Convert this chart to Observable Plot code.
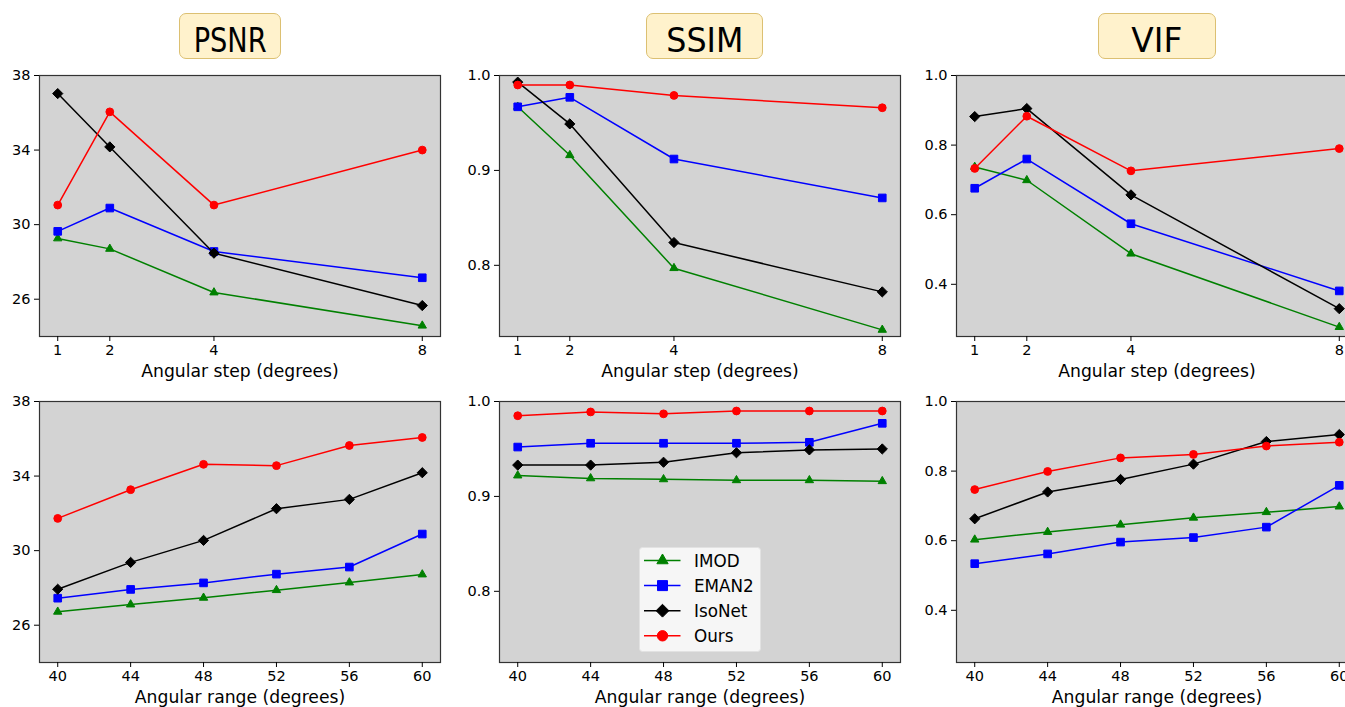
<!DOCTYPE html>
<html>
<head>
<meta charset="utf-8">
<script src="https://cdn.jsdelivr.net/npm/d3@7"></script>
<script src="https://cdn.jsdelivr.net/npm/@observablehq/plot@0.6"></script>
<style>
  html, body { margin: 0; padding: 0; overflow: hidden; background: #fff; }
  #root { position: relative; width: 1345px; height: 707px; overflow: hidden; background: #fff; font-family: "DejaVu Sans", sans-serif; }
  .panel { position: absolute; }
  .panel svg { display: block; background: transparent; max-width: none; }
  .tbox { position: absolute; box-sizing: border-box; background: #fff2cc; border: 1px solid #dcc072; border-radius: 7px; }
  .tbox svg { position: absolute; left: 0; top: 0; overflow: visible; }
  #legend { position: absolute; }
</style>
</head>
<body>
<div id="root"></div>
<script>
// ---------------- data ----------------
const methods = ["IMOD", "EMAN2", "IsoNet", "Ours"];
const metricTitles = ["PSNR", "SSIM", "VIF"];
const steps = [1, 2, 4, 8];
const ranges = [40, 44, 48, 52, 56, 60];
const stepLabel = "Angular step (degrees)";
const rangeLabel = "Angular range (degrees)";

const psnrStep_IMOD   = [29.26, 28.70, 26.36, 24.58];
const psnrStep_EMAN2  = [29.64, 30.89, 28.56, 27.15];
const psnrStep_IsoNet = [37.03, 34.17, 28.47, 25.66];
const psnrStep_Ours   = [31.05, 36.05, 31.05, 34.00];

const ssimStep_IMOD   = [0.967, 0.916, 0.797, 0.732];
const ssimStep_EMAN2  = [0.967, 0.977, 0.912, 0.871];
const ssimStep_IsoNet = [0.993, 0.949, 0.824, 0.772];
const ssimStep_Ours   = [0.990, 0.990, 0.979, 0.966];

const vifStep_IMOD    = [0.737, 0.699, 0.488, 0.277];
const vifStep_EMAN2   = [0.676, 0.760, 0.574, 0.381];
const vifStep_IsoNet  = [0.882, 0.905, 0.657, 0.330];
const vifStep_Ours    = [0.733, 0.883, 0.726, 0.790];

const psnrRange_IMOD   = [26.72, 27.11, 27.47, 27.88, 28.29, 28.72];
const psnrRange_EMAN2  = [27.45, 27.92, 28.27, 28.74, 29.12, 30.89];
const psnrRange_IsoNet = [27.93, 29.37, 30.55, 32.25, 32.75, 34.18];
const psnrRange_Ours   = [31.73, 33.27, 34.63, 34.56, 35.64, 36.07];

const ssimRange_IMOD   = [0.922, 0.919, 0.918, 0.917, 0.917, 0.916];
const ssimRange_EMAN2  = [0.952, 0.956, 0.956, 0.956, 0.957, 0.977];
const ssimRange_IsoNet = [0.933, 0.933, 0.936, 0.946, 0.949, 0.950];
const ssimRange_Ours   = [0.985, 0.989, 0.987, 0.990, 0.990, 0.990];

const vifRange_IMOD    = [0.603, 0.625, 0.646, 0.666, 0.682, 0.698];
const vifRange_EMAN2   = [0.534, 0.562, 0.596, 0.609, 0.639, 0.759];
const vifRange_IsoNet  = [0.663, 0.740, 0.776, 0.820, 0.885, 0.905];
const vifRange_Ours    = [0.747, 0.799, 0.838, 0.848, 0.872, 0.883];

const psnrTicks = [26, 30, 34, 38];
const unitTicks = [0.8, 0.9, 1.0];
const vifTicks = [0.4, 0.6, 0.8, 1.0];

// ---------------- styles ----------------
const colorOf = {IMOD: "green", EMAN2: "blue", IsoNet: "black", Ours: "red"};
const symbolOf = {IMOD: "triangle", EMAN2: "square", IsoNet: "diamond2", Ours: "circle"};
const rOf = {IMOD: 3.1, EMAN2: 4.3, IsoNet: 4.6, Ours: 3.9};

const root = document.getElementById("root");

function table(xs, seriesArrays) {
  const rows = [];
  methods.forEach((m, i) => xs.forEach((x, j) => rows.push({method: m, x, y: seriesArrays[i][j]})));
  return rows;
}

const frameW = 401, frameH = 261;
const mL = 40, mR = 10, mT = 12, mB = 62;

function panel({fx, fy, xDomain, xTicks, yDomain, yTicks, yFmt, xLabel, rows}) {
  const marks = [Plot.frame({fill: "#d3d3d3"})];
  for (const m of methods) {
    const d = rows.filter(r => r.method === m);
    marks.push(Plot.line(d, {x: "x", y: "y", stroke: colorOf[m], strokeWidth: 1.5}));
    marks.push(Plot.dot(d, {x: "x", y: "y", symbol: () => symbolOf[m], fill: colorOf[m], stroke: colorOf[m], strokeWidth: 1, r: rOf[m]}));
  }
  marks.push(Plot.frame({stroke: "#333", strokeWidth: 1.2}));
  marks.push(Plot.axisX({ticks: xTicks, tickFormat: d3.format("d"), tickSize: 5, tickPadding: 3, label: null, fontSize: 14.5}));
  marks.push(Plot.axisY({ticks: yTicks, tickFormat: yFmt, tickSize: 5, tickPadding: 4, label: null, fontSize: 14.5}));
  marks.push(Plot.text([xLabel], {frameAnchor: "bottom", dy: 35, fontSize: 17.2, lineAnchor: "middle", fill: "black"}));
  const chart = Plot.plot({
    width: mL + frameW + mR,
    height: mT + frameH + mB,
    marginLeft: mL, marginRight: mR, marginTop: mT, marginBottom: mB,
    style: {background: "transparent", fontFamily: "DejaVu Sans", fontSize: "14.5px", color: "black", overflow: "visible"},
    x: {domain: xDomain},
    y: {domain: yDomain},
    symbol: {type: "identity"},
    marks
  });
  const div = document.createElement("div");
  div.className = "panel";
  div.style.left = (fx - mL) + "px";
  div.style.top = (fy - mT) + "px";
  div.style.width = (mL + frameW + mR) + "px";
  div.style.height = (mT + frameH + mB) + "px";
  div.appendChild(chart);
  root.appendChild(div);
}

const colX = [39.3, 499.3, 955.7];
const rowY = [74.7, 400.7];
const stepDomain = [0.65, 8.35];
const rangeDomain = [39, 61];
const fmtInt = d3.format("d");
const fmt1 = d3.format(".1f");

panel({fx: colX[0], fy: rowY[0], xDomain: stepDomain, xTicks: steps, yDomain: [24, 38], yTicks: psnrTicks, yFmt: fmtInt, xLabel: stepLabel,
  rows: table(steps, [psnrStep_IMOD, psnrStep_EMAN2, psnrStep_IsoNet, psnrStep_Ours])});
panel({fx: colX[1], fy: rowY[0], xDomain: stepDomain, xTicks: steps, yDomain: [0.725, 1.0], yTicks: unitTicks, yFmt: fmt1, xLabel: stepLabel,
  rows: table(steps, [ssimStep_IMOD, ssimStep_EMAN2, ssimStep_IsoNet, ssimStep_Ours])});
panel({fx: colX[2], fy: rowY[0], xDomain: stepDomain, xTicks: steps, yDomain: [0.25, 1.0], yTicks: vifTicks, yFmt: fmt1, xLabel: stepLabel,
  rows: table(steps, [vifStep_IMOD, vifStep_EMAN2, vifStep_IsoNet, vifStep_Ours])});
panel({fx: colX[0], fy: rowY[1], xDomain: rangeDomain, xTicks: ranges, yDomain: [24, 38], yTicks: psnrTicks, yFmt: fmtInt, xLabel: rangeLabel,
  rows: table(ranges, [psnrRange_IMOD, psnrRange_EMAN2, psnrRange_IsoNet, psnrRange_Ours])});
panel({fx: colX[1], fy: rowY[1], xDomain: rangeDomain, xTicks: ranges, yDomain: [0.725, 1.0], yTicks: unitTicks, yFmt: fmt1, xLabel: rangeLabel,
  rows: table(ranges, [ssimRange_IMOD, ssimRange_EMAN2, ssimRange_IsoNet, ssimRange_Ours])});
panel({fx: colX[2], fy: rowY[1], xDomain: rangeDomain, xTicks: ranges, yDomain: [0.25, 1.0], yTicks: vifTicks, yFmt: fmt1, xLabel: rangeLabel,
  rows: table(ranges, [vifRange_IMOD, vifRange_EMAN2, vifRange_IsoNet, vifRange_Ours])});

// ---------------- titles ----------------
const titleBoxes = [
  {left: 178.7, width: 102.3, textW: 73},
  {left: 645.7, width: 117.6, textW: 77},
  {left: 1098.3, width: 117.7, textW: 51}
];
metricTitles.forEach((t, i) => {
  const b = titleBoxes[i];
  const div = document.createElement("div");
  div.className = "tbox";
  div.style.left = b.left + "px";
  div.style.top = "12.5px";
  div.style.width = b.width + "px";
  div.style.height = "46px";
  const svg = d3.create("svg").attr("width", b.width).attr("height", 46);
  svg.append("text")
    .attr("x", (b.width - b.textW) / 2 - 1)
    .attr("y", 37.6)
    .attr("textLength", b.textW)
    .attr("lengthAdjust", "spacingAndGlyphs")
    .attr("font-family", "DejaVu Sans")
    .attr("font-size", 34)
    .attr("fill", "black")
    .text(t);
  div.appendChild(svg.node());
  root.appendChild(div);
});

// ---------------- legend ----------------
const legSym = {triangle: d3.symbolTriangle, square: d3.symbolSquare, diamond2: d3.symbolDiamond2, circle: d3.symbolCircle};
const legSize = {IMOD: 55, EMAN2: 100, IsoNet: 105, Ours: 85};
const legDiv = document.createElement("div");
legDiv.id = "legend";
legDiv.style.left = "639px";
legDiv.style.top = "547.3px";
const lg = d3.create("svg").attr("width", 122).attr("height", 105);
lg.append("rect").attr("x", 0.5).attr("y", 0.5).attr("width", 121).attr("height", 104)
  .attr("rx", 3).attr("fill", "#f6f6f6").attr("stroke", "#e2e2e2");
methods.forEach((m, i) => {
  const yy = 13.5 + i * 25.1;
  lg.append("line").attr("x1", 5).attr("x2", 41.5).attr("y1", yy).attr("y2", yy)
    .attr("stroke", colorOf[m]).attr("stroke-width", 1.5);
  lg.append("path").attr("d", d3.symbol(legSym[symbolOf[m]], legSize[m])())
    .attr("transform", `translate(23.5,${yy})`)
    .attr("fill", colorOf[m]).attr("stroke", colorOf[m]).attr("stroke-width", 1);
  lg.append("text").attr("x", 55).attr("y", yy).attr("dy", "0.36em")
    .attr("font-family", "DejaVu Sans").attr("font-size", 16.8).attr("fill", "black").text(m);
});
legDiv.appendChild(lg.node());
root.appendChild(legDiv);
</script>
</body>
</html>
